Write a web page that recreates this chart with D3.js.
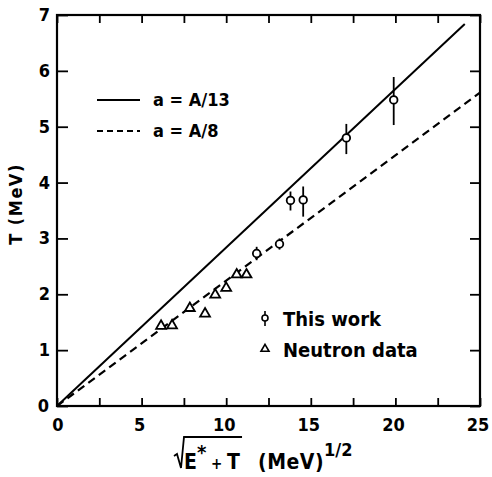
<!DOCTYPE html>
<html>
<head>
<meta charset="utf-8">
<script src="https://cdn.jsdelivr.net/npm/d3@7"></script>
<style>
  html, body { margin: 0; padding: 0; background: #fff; }
  svg { display: block; }
  text { font-family: "DejaVu Sans Condensed", "DejaVu Sans", sans-serif; font-weight: bold; fill: #000; }
</style>
</head>
<body>
<svg id="chart" width="492" height="477"></svg>
<script>
// ---- data ----
const xTicks = [0, 5, 10, 15, 20, 25];
const xMinorTicks = [2.5, 7.5, 12.5, 17.5, 22.5];
const yTicks = [0, 1, 2, 3, 4, 5, 6, 7];

// a = A/13 (solid) and a = A/8 (dashed) curves
const lineA13 = [[0, 0], [24.1, 6.84]];
const lineA8 = [[0, 0], [25, 5.61]];

// "This work": x, T, lower, upper
const thisWorkX = [11.8, 13.15, 13.8, 14.55, 17.1, 19.9];
const thisWorkT = [2.73, 2.90, 3.68, 3.69, 4.80, 5.48];
const thisWorkLo = [2.61, 2.80, 3.50, 3.39, 4.51, 5.03];
const thisWorkHi = [2.85, 3.00, 3.84, 3.93, 5.05, 5.89];

// Neutron data
const neutronX = [6.15, 6.8, 7.85, 8.75, 9.35, 10.0, 10.62, 11.2];
const neutronT = [1.45, 1.46, 1.77, 1.67, 2.01, 2.13, 2.37, 2.37];

// ---- layout ----
const svg = d3.select("#chart");
const x = d3.scaleLinear().domain([0, 25]).range([57, 480]);
const y = d3.scaleLinear().domain([0, 7]).range([406, 15]);

// frame
svg.append("rect")
  .attr("x", x(0)).attr("y", y(7))
  .attr("width", x(25) - x(0)).attr("height", y(0) - y(7))
  .attr("fill", "none").attr("stroke", "#000").attr("stroke-width", 2.2);

// axes with inward ticks
const allX = xTicks.concat(xMinorTicks);
const axBottom = d3.axisBottom(x).tickValues(allX).tickSize(-8).tickFormat("");
const axTop = d3.axisTop(x).tickValues(allX).tickSize(-8).tickFormat("");
const axLeft = d3.axisLeft(y).tickValues(yTicks).tickSize(-11).tickFormat("");
const axRight = d3.axisRight(y).tickValues(yTicks).tickSize(-10).tickFormat("");

function styleAxis(g) {
  g.select(".domain").remove();
  g.selectAll(".tick line").attr("stroke", "#000").attr("stroke-width", 1.8);
}
svg.append("g").attr("transform", `translate(0,${y(0)})`).call(axBottom).call(styleAxis);
svg.append("g").attr("transform", `translate(0,${y(7)})`).call(axTop).call(styleAxis);
svg.append("g").attr("transform", `translate(${x(0)},0)`).call(axLeft).call(styleAxis);
svg.append("g").attr("transform", `translate(${x(25)},0)`).call(axRight).call(styleAxis);

// tick labels
svg.append("g").selectAll("text").data(xTicks).join("text")
  .attr("x", d => x(d) - (d === 0 ? -1 : 2)).attr("y", 431)
  .attr("text-anchor", "middle").attr("font-size", 18).text(d => d);
svg.append("g").selectAll("text").data(yTicks).join("text")
  .attr("x", d => d === 0 ? 49 : 50).attr("y", d => y(d) + 6)
  .attr("text-anchor", "end").attr("font-size", 18).text(d => d);

// y label
svg.append("text")
  .attr("transform", `translate(22,204) rotate(-90)`)
  .attr("text-anchor", "middle").attr("font-size", 18)
  .attr("letter-spacing", 1.5).text("T (MeV)");

// x label: sqrt(E* + T) (MeV)^1/2
const xl = svg.append("text").attr("x", 184).attr("y", 469).attr("font-size", 21);
xl.append("tspan").text("E");
xl.append("tspan").attr("dy", -10).attr("font-size", 20).text("*");
xl.append("tspan").attr("dy", 10).attr("font-size", 15).text(" + ");
xl.append("tspan").attr("font-size", 21).text("T");
const bb = xl.node().getBBox();
svg.append("path")
  .attr("d", `M174,456 L177,454 L181,468 L184,437 L${bb.x + bb.width + 2},437`)
  .attr("fill", "none").attr("stroke", "#000").attr("stroke-width", 1.8);
const xl2 = svg.append("text").attr("x", 258).attr("y", 469).attr("font-size", 21);
xl2.append("tspan").attr("letter-spacing", 0.5).text("(MeV)");
xl2.append("tspan").attr("dy", -13).attr("font-size", 18).text("1/2");

// lines
const line = d3.line().x(d => x(d[0])).y(d => y(d[1]));
svg.append("path").datum(lineA13).attr("d", line)
  .attr("fill", "none").attr("stroke", "#000").attr("stroke-width", 2);
svg.append("path").datum(lineA8).attr("d", line)
  .attr("fill", "none").attr("stroke", "#000").attr("stroke-width", 2.2)
  .attr("stroke-dasharray", "8,5");

// neutron data
const tri = d3.symbol().type(d3.symbolTriangle).size(42);
svg.append("g").selectAll("path").data(neutronX).join("path")
  .attr("d", tri)
  .attr("transform", (d, i) => `translate(${x(d)},${y(neutronT[i]) + 1})`)
  .attr("fill", "#fff").attr("stroke", "#000").attr("stroke-width", 1.8);

// this work
const tw = svg.append("g");
tw.selectAll("line").data(thisWorkX).join("line")
  .attr("x1", d => x(d)).attr("x2", d => x(d))
  .attr("y1", (d, i) => y(thisWorkLo[i])).attr("y2", (d, i) => y(thisWorkHi[i]))
  .attr("stroke", "#000").attr("stroke-width", 1.8);
tw.selectAll("circle").data(thisWorkX).join("circle")
  .attr("cx", d => x(d)).attr("cy", (d, i) => y(thisWorkT[i])).attr("r", 3.8)
  .attr("fill", "#fff").attr("stroke", "#000").attr("stroke-width", 1.8);

// legend: lines
svg.append("line").attr("x1", 97).attr("x2", 140).attr("y1", 100).attr("y2", 100)
  .attr("stroke", "#000").attr("stroke-width", 2);
svg.append("line").attr("x1", 97).attr("x2", 140).attr("y1", 131).attr("y2", 131)
  .attr("stroke", "#000").attr("stroke-width", 2).attr("stroke-dasharray", "6,4");
svg.append("text").attr("x", 153).attr("y", 106).attr("font-size", 18).text("a = A/13");
svg.append("text").attr("x", 153).attr("y", 137).attr("font-size", 18).text("a = A/8");

// legend: symbols
svg.append("line").attr("x1", 265).attr("x2", 265).attr("y1", 311).attr("y2", 326)
  .attr("stroke", "#000").attr("stroke-width", 1.6);
svg.append("circle").attr("cx", 265).attr("cy", 318).attr("r", 3)
  .attr("fill", "#fff").attr("stroke", "#000").attr("stroke-width", 1.6);
svg.append("path").attr("d", d3.symbol().type(d3.symbolTriangle).size(28))
  .attr("transform", "translate(265,349)")
  .attr("fill", "#fff").attr("stroke", "#000").attr("stroke-width", 1.6);
svg.append("text").attr("x", 283).attr("y", 326).attr("font-size", 20).text("This  work");
svg.append("text").attr("x", 283).attr("y", 357).attr("font-size", 20).text("Neutron data");
</script>
</body>
</html>
